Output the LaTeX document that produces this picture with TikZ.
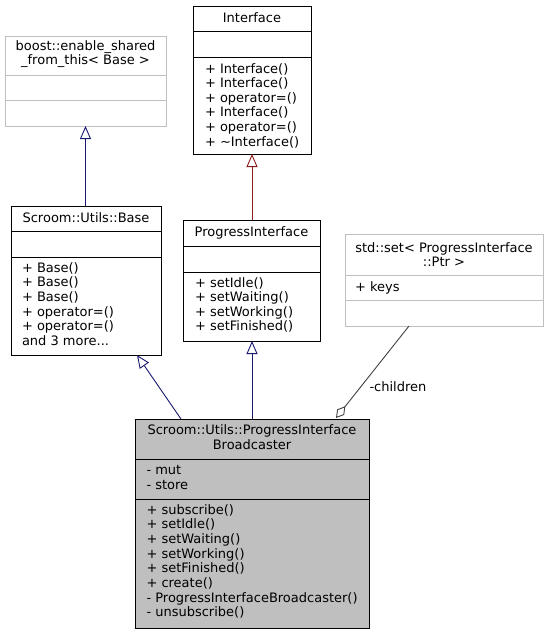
\documentclass[tikz,border=0pt]{standalone}
\usepackage{fontspec}
\setmainfont{DejaVu Sans}
\usetikzlibrary{arrows.meta}
\definecolor{edgeblue}{HTML}{191970}
\definecolor{edgered}{HTML}{8B1A1A}
\definecolor{grayline}{HTML}{BFBFBF}
\definecolor{grayfill}{HTML}{BFBFBF}
\definecolor{aggline}{HTML}{404040}
\begin{document}
\begin{tikzpicture}[x=1pt,y=-1pt,
  every node/.style={font=\fontsize{13}{14.67}\selectfont, inner sep=0pt, outer sep=0pt},
  box/.style={draw=black, line width=0.9pt, anchor=north west, inner sep=0pt},
  graybox/.style={box, draw=grayline},
  fillbox/.style={box, fill=grayfill},
  sep/.style={line width=0.9pt},
  title/.style={anchor=base},
  member/.style={anchor=base west},
  inhblue/.style={draw=edgeblue, line width=0.9pt, -{Triangle[open, length=13pt, width=11pt]}},
  inhred/.style={draw=edgered, line width=0.9pt, -{Triangle[open, length=13pt, width=11pt]}},
  aggr/.style={draw=aggline, line width=0.9pt, -{Diamond[open, length=15pt, width=9pt]}}
]
\useasboundingbox (0,0) rectangle (549,633);

% boost::enable_shared_from_this< Base >
\node[graybox, minimum width=161pt, minimum height=90pt] (boost) at (5,36) {};
\draw[sep, grayline] (5,75) -- (166,75);
\draw[sep, grayline] (5,100) -- (166,100);
\node[title] (boostt1) at (85.5,50.7) {boost::enable\_shared};
\node[title] (boostt2) at (85.5,64) {\_from\_this< Base >};

% Interface
\node[box, minimum width=118pt, minimum height=148pt] (iface) at (193,6) {};
\draw[sep] (193,31) -- (311,31);
\draw[sep] (193,57) -- (311,57);
\node[title] (ifacet) at (252,22.5) {Interface};
\foreach \t [count=\i] in {+ Interface(),+ Interface(),+ operator=(),+ Interface(),+ operator=(),+ \textasciitilde Interface()}
  \node[member] (ifacem\i) at (205,{73+(\i-1)*14.6}) {\t};

% Scroom::Utils::Base
\node[box, minimum width=150pt, minimum height=149pt] (base) at (11,206) {};
\draw[sep] (11,231) -- (161,231);
\draw[sep] (11,257) -- (161,257);
\node[title] (baset) at (86,222.5) {Scroom::Utils::Base};
\foreach \t [count=\i] in {+ Base(),+ Base(),+ Base(),+ operator=(),+ operator=()}
  \node[member] (basem\i) at (22,{272.3+(\i-1)*14.67}) {\t};
\node[member] (basem6) at (22,{272.3+5*14.67}) {and 3 more...};

% ProgressInterface
\node[box, minimum width=137pt, minimum height=121pt] (pi) at (183,220) {};
\draw[sep] (183,246) -- (320,246);
\draw[sep] (183,272) -- (320,272);
\node[title] (pit) at (251.5,236.3) {ProgressInterface};
\foreach \t [count=\i] in {+ setIdle(),+ setWaiting(),+ setWorking(),+ setFinished()}
  \node[member] (pim\i) at (195,{287.3+(\i-1)*14.5}) {\t};

% std::set< ProgressInterface::Ptr >
\node[graybox, minimum width=198pt, minimum height=92pt] (set) at (345,234) {};
\draw[sep, grayline] (345,275) -- (543,275);
\draw[sep, grayline] (345,300) -- (543,300);
\node[title] (sett1) at (444,252.3) {std::set< ProgressInterface};
\node[title] (sett2) at (444,266.3) {::Ptr >};
\node[member] (setm1) at (355,291.3) {+ keys};

% Scroom::Utils::ProgressInterfaceBroadcaster
\node[fillbox, minimum width=234pt, minimum height=209pt] (bcast) at (135,419) {};
\draw[sep] (135,459) -- (369,459);
\draw[sep] (135,499) -- (369,499);
\node[title] (bcastt1) at (252,434.7) {Scroom::Utils::ProgressInterface};
\node[title] (bcastt2) at (252,449.7) {Broadcaster};
\node[member] (bcasta1) at (146.5,474.7) {- mut};
\node[member] (bcasta2) at (146.5,489.7) {- store};
\foreach \t [count=\i] in {+ subscribe(),+ setIdle(),+ setWaiting(),+ setWorking(),+ setFinished(),+ create(),- ProgressInterfaceBroadcaster(),- unsubscribe()}
  \node[member] (bcastm\i) at (146.5,{514+(\i-1)*14.67}) {\t};

% connectors
\draw[inhblue] (boost.south |- base.north) -- (boost.south);
\draw[inhred] (iface.south |- pi.north) -- (iface.south);
\draw[inhblue] (bcast.north) -- (bcast.north |- pi.south);
\coordinate (bcastbase) at (181,419);
\coordinate (basebcast) at (137,355);
\draw[inhblue] (bcastbase) -- (basebcast);
\coordinate (setbcast) at (409,326);
\coordinate (bcastset) at (336,418);
\draw[aggr] (setbcast) -- (bcastset);
\node[member] (childlbl) at (369.5,391.5) {-children};
\end{tikzpicture}
\end{document}
